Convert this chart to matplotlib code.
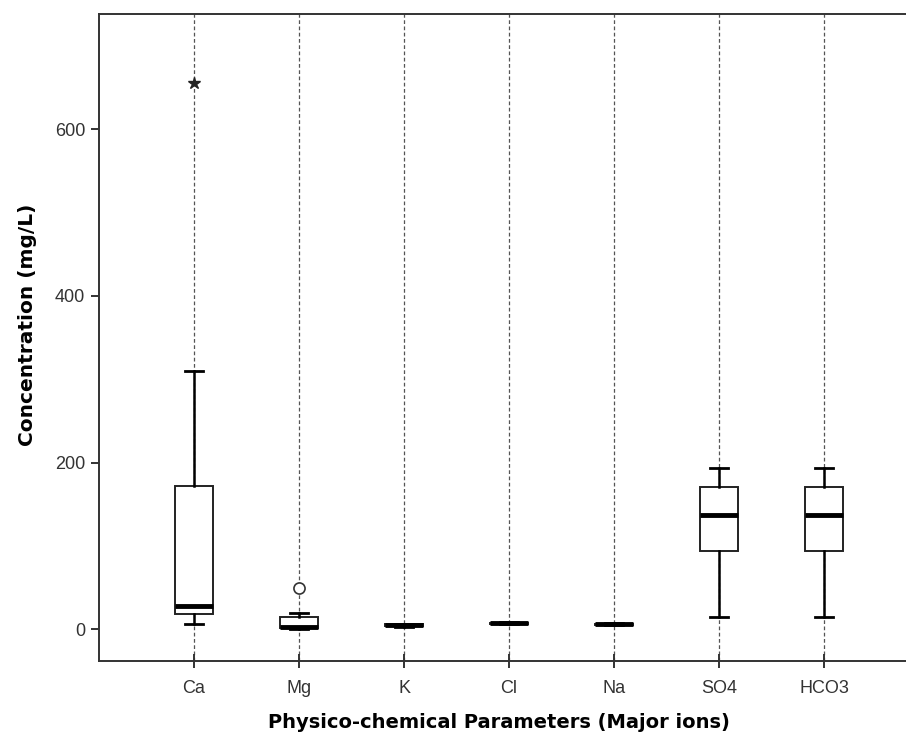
import matplotlib
matplotlib.use("Agg")
import matplotlib.pyplot as plt

plt.rcParams['font.family'] = ['Liberation Sans', 'DejaVu Sans']

# Parametres (ions majors) i estadistics llegits del grafic
ions = ["Ca", "Mg", "K", "Cl", "Na", "SO4", "HCO3"]
whis_low = [5.6, 0.5, 3.0, 5.5, 4.8, 15, 15]
q1 = [17.6, 1.6, 3.5, 6.0, 5.3, 94, 94]
median = [27.6, 2.8, 4.6, 6.8, 6.0, 137, 137]
q3 = [171.8, 14.8, 5.8, 7.6, 6.6, 171, 171]
whis_high = [310, 19.2, 6.2, 8.0, 7.0, 193, 193]

# Valors atipics (categoria, valor, marcador)
outlier_ion = ["Ca", "Mg"]
outlier_val = [656, 49]
outlier_marker = ["*", "o"]

yticks = [0, 200, 400, 600]

fig = plt.figure(figsize=(9.06, 7.33), dpi=100)
ax = fig.add_axes([0.1093, 0.0982, 0.8907, 0.8828])

pos = list(range(len(ions)))

# Linies discontinues verticals per cada parametre
for p in pos:
    ax.axvline(p, color="#555555", linestyle=(0, (3, 2)), linewidth=0.9, zorder=0)

stats = []
for i, name in enumerate(ions):
    stats.append({"label": name, "med": median[i], "q1": q1[i], "q3": q3[i],
                  "whislo": whis_low[i], "whishi": whis_high[i], "fliers": []})

ax.bxp(stats, positions=pos, widths=0.36, showfliers=False, patch_artist=True,
       boxprops=dict(facecolor="white", edgecolor="#222222", linewidth=1.4),
       medianprops=dict(color="black", linewidth=3.5),
       whiskerprops=dict(color="black", linewidth=1.8),
       capprops=dict(color="black", linewidth=2.0),
       capwidths=0.17, zorder=2)

for name, val, mk in zip(outlier_ion, outlier_val, outlier_marker):
    x = ions.index(name)
    if mk == "o":
        ax.plot(x, val, marker=mk, markersize=8, markerfacecolor="white",
                markeredgecolor="#333333", markeredgewidth=1.2, zorder=3)
    else:
        ax.plot(x, val, marker=mk, markersize=9, color="#222222", zorder=3)

ax.set_xlim(-0.905, 6.78)
ax.set_ylim(-38.4, 738.7)
ax.set_yticks(yticks)
ax.set_xticks(pos)
ax.set_xticklabels(ions)

for s in ["left", "bottom", "top"]:
    ax.spines[s].set_color("#333333")
    ax.spines[s].set_linewidth(1.4)
ax.spines["right"].set_visible(False)

ax.tick_params(axis="y", direction="out", length=6, width=1.4, color="#333333",
               labelsize=13, labelcolor="#333333", pad=4)
ax.tick_params(axis="x", direction="inout", length=10, width=1.4, color="#333333",
               labelsize=13, labelcolor="#333333", pad=9)

ax.set_ylabel("Concentration (mg/L)", fontsize=14.5, fontweight="bold",
              family=["DejaVu Sans"])
ax.yaxis.set_label_coords(-0.077, 0.519)
ax.set_xlabel("Physico-chemical Parameters (Major ions)", fontsize=14,
              fontweight="bold", family=["DejaVu Sans"])
ax.xaxis.set_label_coords(0.496, -0.080)

fig.savefig("out.png", dpi=100)
